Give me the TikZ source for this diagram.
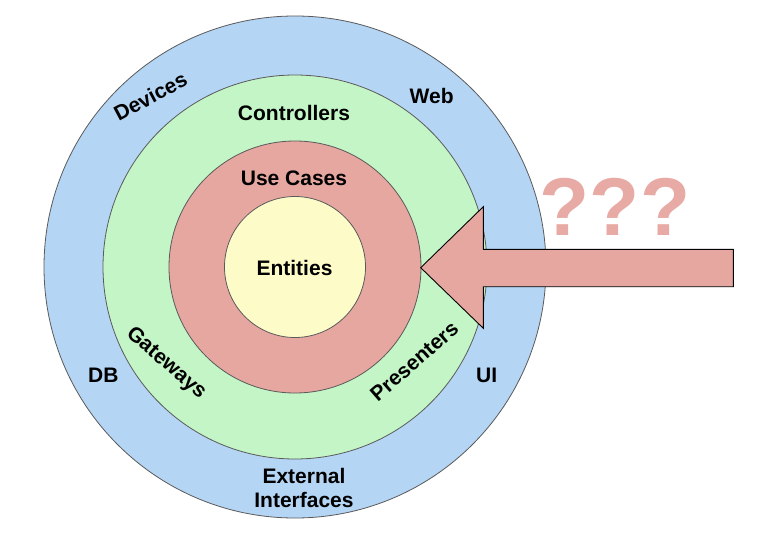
\documentclass[tikz,border=0pt]{standalone}
\usepackage{fontspec}
\setmainfont{Liberation Sans}
\definecolor{outerblue}{RGB}{181,213,245}
\definecolor{ctrlgreen}{RGB}{196,245,198}
\definecolor{usered}{RGB}{230,167,161}
\definecolor{entyellow}{RGB}{253,251,200}
\definecolor{ringline}{RGB}{90,90,90}
\definecolor{qcolor}{RGB}{232,170,164}
\begin{document}
\begin{tikzpicture}[x=1pt,y=-1pt,
  ring/.style={draw=ringline, line width=0.8pt},
  lbl/.style={font=\fontsize{21}{25}\selectfont\bfseries, inner sep=0pt, text height=15pt, text depth=0pt},
  mlbl/.style={font=\fontsize{21}{24.5}\selectfont\bfseries, inner sep=0pt, align=center},
  bigarrow/.style={fill=usered, draw=black, line width=0.9pt, line join=miter}
]
\useasboundingbox (0,0) rectangle (772,549);
\fill[white] (0,0) rectangle (772,549);

% rings
\draw[ring, fill=outerblue] (295,267) circle[radius=251pt];
\draw[ring, fill=ctrlgreen] (295,267) circle[radius=192pt];
\draw[ring, fill=usered] (295,267) circle[radius=126pt];
\draw[ring, fill=entyellow] (295,267) circle[radius=70.5pt];

% arrow
\coordinate (tip) at (420.7,267.7);
\draw[bigarrow] (tip) -- (483.3,206.7) -- (483.3,249.3) -- (733.3,249.3)
  -- (733.3,286.7) -- (483.3,286.7) -- (483.3,328.3) -- cycle;

% question marks
\node[font=\fontsize{82}{90}\selectfont\bfseries, text=qcolor, inner sep=0pt, text height=60pt, text depth=0pt] (q) at (615,205) {???};

% labels
\node[lbl] (entities) at (294.5,267.5) {Entities};
\node[lbl] (usecases) at (294,177.5) {Use Cases};
\node[lbl] (controllers) at (294,113) {Controllers};
\node[lbl] (web) at (431.7,95.8) {Web};
\node[lbl, rotate=28] (devices) at (150.5,96.5) {Devices};
\node[lbl] (db) at (103.3,375.3) {DB};
\node[lbl] (ui) at (486.7,375) {UI};
\node[lbl, rotate=-41] (gateways) at (167.5,361.7) {Gateways};
\node[lbl, rotate=41] (presenters) at (414,361) {Presenters};
\node[mlbl] (external) at (304,488) {External\\Interfaces};
\end{tikzpicture}
\end{document}
